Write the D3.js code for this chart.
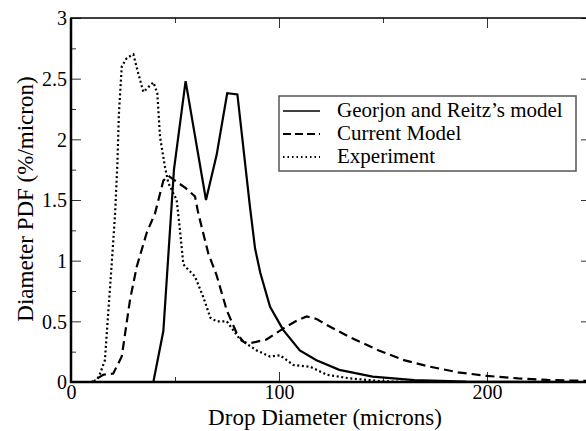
<!DOCTYPE html>
<html>
<head>
<meta charset="utf-8">
<script src="https://cdn.jsdelivr.net/npm/d3@7"></script>
<style>
  html, body { margin: 0; padding: 0; background: #fff; }
  svg { display: block; }
</style>
</head>
<body>
<svg id="chart" width="586" height="431"></svg>
<script>
// Drop diameter PDF curves: [diameter (microns), PDF (%/micron)]
const georjonReitz = [
  [0, 0], [35, 0], [39.6, 0], [44.4, 0.42], [49.5, 1.75], [55.1, 2.48],
  [64.9, 1.5], [70, 1.87], [75.1, 2.38], [80, 2.37], [86, 1.45], [88.5, 1.1],
  [91, 0.9], [95.7, 0.62], [102, 0.43], [110, 0.26], [118, 0.18], [129, 0.10],
  [145, 0.045], [165, 0.015], [190, 0.003], [250, 0]
];
const currentModel = [
  [0, 0], [10, 0], [15.5, 0.06], [20.3, 0.07], [24.4, 0.21], [28.4, 0.68],
  [31.6, 0.95], [36.4, 1.23], [40.4, 1.39], [44.4, 1.66], [46.8, 1.70],
  [50, 1.66], [55, 1.60], [59.6, 1.53], [61.2, 1.39], [66, 1.06], [70, 0.88],
  [74.9, 0.59], [79.7, 0.40], [83, 0.33], [86, 0.32], [94, 0.35], [102, 0.44],
  [108, 0.50], [113.3, 0.54], [118, 0.52], [123, 0.47], [134, 0.37],
  [148, 0.26], [160, 0.18], [172.6, 0.126], [186, 0.08], [200, 0.05],
  [215, 0.03], [229, 0.017], [250, 0.008]
];
const experiment = [
  [0, 0], [10, 0], [12.5, 0.02], [14, 0.07], [16.3, 0.18], [17.9, 0.57],
  [19.6, 0.98], [21.2, 1.39], [22.3, 1.8], [23, 2.2], [24.4, 2.6], [26.8, 2.67],
  [30, 2.70], [32.4, 2.54], [34.8, 2.39], [37.2, 2.43], [39.6, 2.47],
  [41.5, 2.38], [42.8, 2.02], [45.2, 1.77], [46.8, 1.64], [50.8, 1.50],
  [52.4, 1.25], [54, 0.97], [55.6, 0.94], [59.6, 0.87], [63.6, 0.70],
  [67, 0.53], [70, 0.50], [74.9, 0.50], [81.3, 0.35], [89.3, 0.26],
  [95.7, 0.21], [100.5, 0.22], [106.9, 0.14], [115, 0.126], [123, 0.06],
  [134, 0.03], [148.5, 0.008], [160, 0], [250, 0]
];

const seriesNames = ["Georjon and Reitz\u2019s model", "Current Model", "Experiment"];

const xMajorTicks = [0, 100, 200];
const xMinorTicks = [50, 150, 250];
const yMajorTicks = [0, 0.5, 1, 1.5, 2, 2.5, 3];
const yMinorTicks = [0.25, 0.75, 1.25, 1.75, 2.25, 2.75];

const serif = "'Liberation Serif', 'Times New Roman', Times, 'DejaVu Serif', serif";

const svg = d3.select("#chart");
const m = { left: 71, top: 18, right: 591, bottom: 382 };

const x = d3.scaleLinear().domain([0, 250]).range([m.left, m.right]);
const y = d3.scaleLinear().domain([0, 3]).range([m.bottom, m.top]);

const tickColor = "#333";

// Inward-pointing ticks on all four sides
function styleAxis(g) {
  g.attr("font-family", serif);
  g.select(".domain").remove();
  g.selectAll(".tick line").attr("stroke", tickColor).attr("stroke-width", 1);
  g.selectAll(".tick text")
    .attr("font-family", serif)
    .attr("font-size", 20)
    .attr("fill", "#000");
}

svg.append("g").attr("transform", `translate(${m.left},0)`)
  .call(d3.axisLeft(y).tickValues(yMajorTicks).tickSize(-10).tickPadding(4)
    .tickFormat(d3.format("~g")))
  .call(styleAxis)
  .call(g => g.selectAll(".tick text").attr("dy", "0.34em"));
svg.append("g").attr("transform", `translate(${m.left},0)`)
  .call(d3.axisLeft(y).tickValues(yMinorTicks).tickSize(-5).tickFormat(""))
  .call(styleAxis);
svg.append("g").attr("transform", `translate(${m.right},0)`)
  .call(d3.axisRight(y).tickValues(yMajorTicks).tickSize(-10).tickFormat(""))
  .call(styleAxis);
svg.append("g").attr("transform", `translate(${m.right},0)`)
  .call(d3.axisRight(y).tickValues(yMinorTicks).tickSize(-5).tickFormat(""))
  .call(styleAxis);

svg.append("g").attr("transform", `translate(0,${m.bottom})`)
  .call(d3.axisBottom(x).tickValues(xMajorTicks).tickSize(-10).tickPadding(3))
  .call(styleAxis)
  .call(g => g.selectAll(".tick text").attr("y", 3).attr("dy", "0.71em"));
svg.append("g").attr("transform", `translate(0,${m.bottom})`)
  .call(d3.axisBottom(x).tickValues(xMinorTicks).tickSize(-5).tickFormat(""))
  .call(styleAxis);
svg.append("g").attr("transform", `translate(0,${m.top})`)
  .call(d3.axisTop(x).tickValues(xMajorTicks).tickSize(-10).tickFormat(""))
  .call(styleAxis);
svg.append("g").attr("transform", `translate(0,${m.top})`)
  .call(d3.axisTop(x).tickValues(xMinorTicks).tickSize(-5).tickFormat(""))
  .call(styleAxis);

// Frame
svg.append("rect")
  .attr("x", m.left).attr("y", m.top)
  .attr("width", m.right - m.left).attr("height", m.bottom - m.top)
  .attr("fill", "none").attr("stroke", "#000").attr("stroke-width", 1.5);
svg.append("line")
  .attr("x1", m.left).attr("x2", m.left).attr("y1", m.top).attr("y2", m.bottom + 1)
  .attr("stroke", "#000").attr("stroke-width", 2.5);
svg.append("line")
  .attr("x1", m.left - 1).attr("x2", m.right).attr("y1", m.bottom).attr("y2", m.bottom)
  .attr("stroke", "#000").attr("stroke-width", 2.5);

// Curves
const line = d3.line().x(d => x(d[0])).y(d => y(d[1]));
const styles = [
  { data: georjonReitz, dash: null },
  { data: currentModel, dash: "9,5" },
  { data: experiment, dash: "2,2.6" }
];
svg.append("g").selectAll("path").data(styles).join("path")
  .attr("d", d => line(d.data))
  .attr("fill", "none")
  .attr("stroke", "#000")
  .attr("stroke-width", 2.2)
  .attr("stroke-linejoin", "miter")
  .attr("stroke-dasharray", d => d.dash);

// Legend
const legend = svg.append("g");
legend.append("rect")
  .attr("x", 279).attr("y", 96).attr("width", 297).attr("height", 75)
  .attr("fill", "#fff").attr("stroke", "#555").attr("stroke-width", 1.5);
styles.forEach((s, i) => {
  const ly = 111 + i * 23;
  legend.append("line")
    .attr("x1", 283).attr("x2", 320).attr("y1", ly).attr("y2", ly)
    .attr("stroke", "#000").attr("stroke-width", s.dash ? 2.2 : 1.6)
    .attr("stroke-dasharray", s.dash ? (i === 1 ? "8,4" : "1.5,3") : null);
  legend.append("text")
    .attr("x", 337).attr("y", ly + 6)
    .attr("font-family", serif)
    .attr("font-size", 21)
    .text(seriesNames[i]);
});

// Axis titles
svg.append("text")
  .attr("x", 325).attr("y", 425)
  .attr("text-anchor", "middle")
  .attr("font-family", serif)
  .attr("font-size", 23)
  .text("Drop Diameter (microns)");
svg.append("text")
  .attr("transform", "translate(33,199) rotate(-90)")
  .attr("text-anchor", "middle")
  .attr("font-family", serif)
  .attr("font-size", 23)
  .text("Diameter PDF (%/micron)");
</script>
</body>
</html>
